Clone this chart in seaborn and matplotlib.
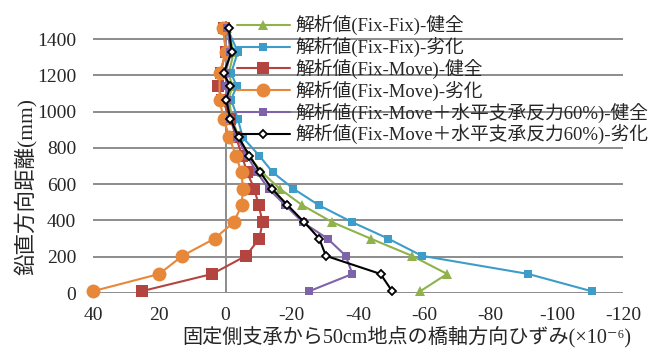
import matplotlib
matplotlib.use("Agg")
import matplotlib.pyplot as plt
import seaborn as sns

# Gauge heights above the bearing (mm)
heights = [10, 105, 205, 300, 390, 485, 575, 665, 757, 858, 962, 1067, 1141, 1211, 1330, 1462]
heights_fm_deg = [10, 105, 205, 300, 390, 485, 575, 665, 757, 858, 962, 1067, 1211, 1330, 1462]

# Axial strain at 50 cm from the fixed bearing (x10^-6)
fixfix_sound = [-58.8, -66.9, -56.3, -43.8, -32.3, -23.1, -16.4, -11.0, -7.0, -4.0, -2.0, -1.0, -2.0, -1.0, -2.5, -0.5]
fixfix_deg = [-110.5, -91.4, -59.3, -49.1, -38.3, -28.1, -20.5, -14.3, -10.2, -5.2, -3.7, -1.7, -3.4, -1.7, -3.7, -0.5]
fixmove_sound = [25.3, 4.0, -6.2, -10.2, -11.2, -10.0, -8.7, -6.5, -5.0, -3.2, -1.5, 1.0, 2.3, 1.5, 0.0, 0.5]
fixmove_deg = [40.0, 20.0, 13.0, 3.3, -2.5, -4.9, -5.2, -4.9, -3.1, -1.2, 0.6, 1.8, 1.8, -0.2, 0.8]
fixmove60_sound = [-25.3, -38.3, -36.3, -30.8, -23.3, -18.0, -13.0, -9.5, -6.5, -3.5, -1.5, -0.5, -0.3, 0.0, -1.5, -0.5]
fixmove60_deg = [-50.3, -46.8, -30.3, -28.3, -23.8, -18.7, -14.0, -10.5, -7.2, -4.0, -1.4, -0.2, -1.5, 0.6, -1.9, -1.0]

series_labels = [
    "解析値(Fix-Fix)-健全",
    "解析値(Fix-Fix)-劣化",
    "解析値(Fix-Move)-健全",
    "解析値(Fix-Move)-劣化",
    "解析値(Fix-Move＋水平支承反力60%)-健全",
    "解析値(Fix-Move＋水平支承反力60%)-劣化",
]
x_ticks = [40, 20, 0, -20, -40, -60, -80, -100, -120]
y_ticks = [0, 200, 400, 600, 800, 1000, 1200, 1400]

sns.set_theme(style="white")
plt.rcParams["font.family"] = ["Liberation Serif", "Noto Sans CJK JP", "DejaVu Sans"]
plt.rcParams["axes.unicode_minus"] = False

fig = plt.figure(figsize=(6.72, 3.49), dpi=100)
ax = fig.add_axes([93 / 672, 1 - 293 / 349, 530 / 672, 272 / 349])

grid_col = "#8c8c8c"
ax.axvline(0, color=grid_col, lw=1.4, zorder=1)

styles = [
    (fixfix_sound, heights, dict(color="#8fb24b", marker="^", markersize=7.5)),
    (fixfix_deg, heights, dict(color="#3e9cc8", marker="s", markersize=5.5)),
    (fixmove_sound, heights, dict(color="#b4443f", marker="s", markersize=9)),
    (fixmove_deg, heights_fm_deg, dict(color="#e6873a", marker="o", markersize=10)),
    (fixmove60_sound, heights, dict(color="#7f63a8", marker="s", markersize=5.5)),
    (fixmove60_deg, heights, dict(color="black", marker="D", markersize=4.5,
                                  markerfacecolor="white", markeredgecolor="black",
                                  markeredgewidth=1.3)),
]

for (vals, hs, st), lab in zip(styles, series_labels):
    kw = dict(linewidth=1.5, clip_on=False)
    if "markerfacecolor" not in st:
        kw.update(markeredgewidth=0)
    kw.update(st)
    sns.lineplot(x=vals, y=hs, sort=False, estimator=None, ax=ax, label=lab, **kw)

ax.set_xlim(40, -120)
ax.set_ylim(0, 1500)
ax.set_xticks(x_ticks)
ax.set_yticks(y_ticks)
ax.yaxis.grid(True, color=grid_col, lw=1.4)
ax.xaxis.grid(False)
ax.set_axisbelow(True)
for sp in ax.spines.values():
    sp.set_visible(False)
ax.tick_params(axis="both", length=0, labelsize=14)
ax.tick_params(axis="x", pad=10)
ax.tick_params(axis="y", pad=12)

ax.set_xlabel("固定側支承から50cm地点の橋軸方向ひずみ(×10⁻⁶)", fontsize=14.5)
ax.set_ylabel("鉛直方向距離(mm)", fontsize=15.5)
ax.xaxis.set_label_coords(0.592, -0.122)
ax.yaxis.set_label_coords(-0.105, 0.39)

handles, labels = ax.get_legend_handles_labels()
leg = ax.legend(handles, labels, loc="upper left",
                bbox_to_anchor=(237 / 672, (349 - 15) / 349),
                bbox_transform=fig.transFigure, frameon=False, fontsize=13.5,
                handlelength=2.8, handletextpad=0.3, labelspacing=0.08,
                borderpad=0, borderaxespad=0)

fig.savefig("out.png", dpi=100)
